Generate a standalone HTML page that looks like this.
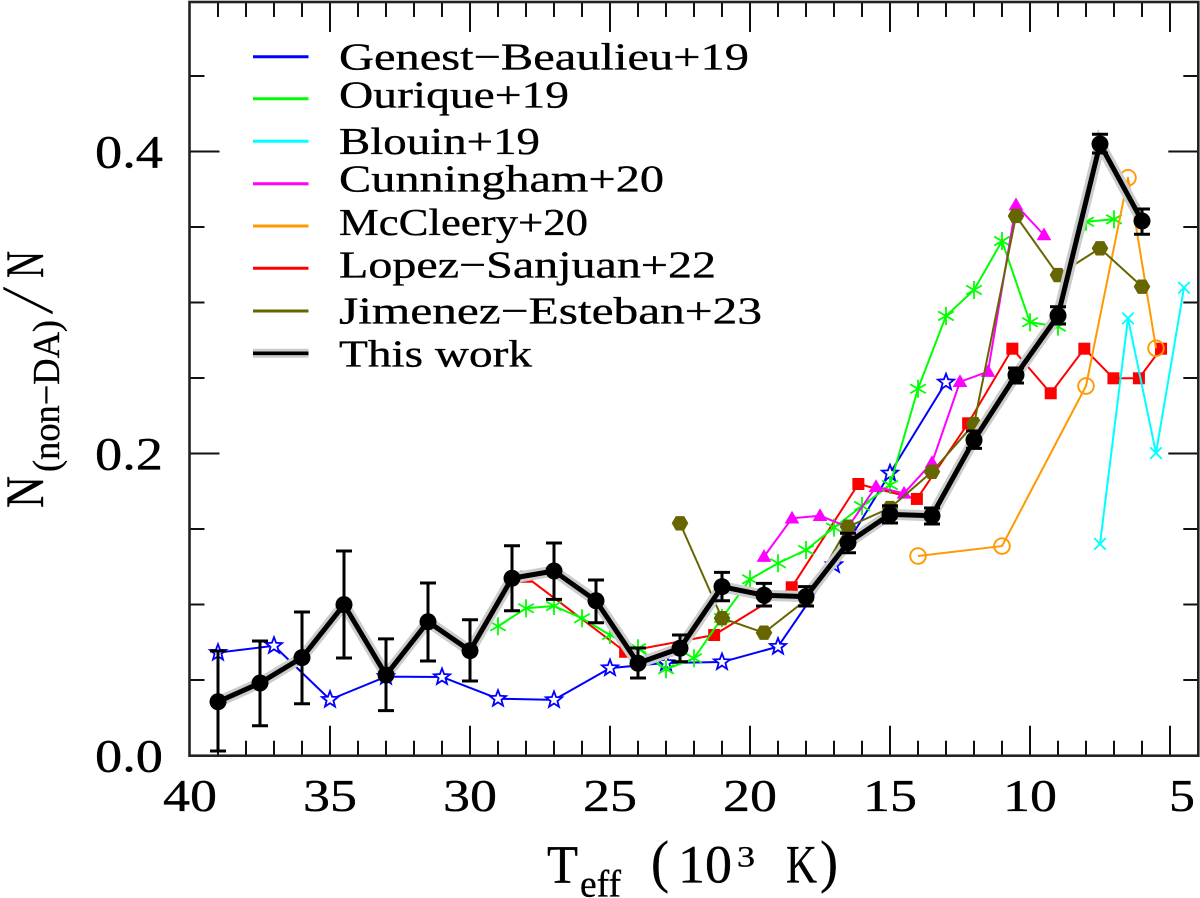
<!DOCTYPE html>
<html lang="en">
<head>
<meta charset="utf-8">
<title>Non-DA fraction versus effective temperature</title>
<style>
html,body{margin:0;padding:0;background:#fff;width:1200px;height:898px;overflow:hidden}
svg{display:block;position:absolute;left:0;top:0}
text{font-family:"Liberation Serif","DejaVu Serif",serif;fill:#000;stroke:#000;stroke-width:0.35}
</style>
</head>
<body>
<svg id="chart" xmlns="http://www.w3.org/2000/svg" width="1200" height="898" viewBox="0 0 1200 898">
  <rect x="0" y="0" width="1200" height="898" fill="#fff"/>
  <g id="ticks"></g>
  <g id="marks"></g>
  <rect x="189.5" y="2" width="1008.8" height="753.7" fill="none" stroke="#222" stroke-width="2.6"/>
  <g id="ticklabels"></g>

  <g>
    <text transform="translate(43,508) rotate(-90)" font-size="54" textLength="32" lengthAdjust="spacingAndGlyphs">N</text>
    <text transform="translate(59,472) rotate(-90)" font-size="38" textLength="152" lengthAdjust="spacingAndGlyphs">(non−DA)</text>
    <text style="stroke:#fff;stroke-width:1.6" transform="translate(53,316) rotate(-90)" font-size="76" textLength="31" lengthAdjust="spacingAndGlyphs">/</text>
    <text transform="translate(43,278) rotate(-90)" font-size="54" textLength="27" lengthAdjust="spacingAndGlyphs">N</text>
  </g>

  <g>
    <text x="547" y="882.5" font-size="54" textLength="31" lengthAdjust="spacingAndGlyphs">T</text>
    <text x="580" y="896.5" font-size="38" textLength="41" lengthAdjust="spacingAndGlyphs">eff</text>
    <text x="651" y="881" font-size="58" textLength="18" lengthAdjust="spacingAndGlyphs">(</text>
    <text x="678" y="882.5" font-size="54" textLength="54" lengthAdjust="spacingAndGlyphs">10</text>
    <text x="737" y="866.5" font-size="30" textLength="18" lengthAdjust="spacingAndGlyphs">3</text>
    <text x="786" y="882.5" font-size="54" textLength="31" lengthAdjust="spacingAndGlyphs">K</text>
    <text x="820" y="881" font-size="58" textLength="18" lengthAdjust="spacingAndGlyphs">)</text>
  </g>

  <g font-size="38">
    <g>
      <line x1="253" x2="308.5" y1="56.7" y2="56.7" stroke="#0000ff" stroke-width="3"/>
      <text x="339" y="69.5" textLength="410" lengthAdjust="spacingAndGlyphs">Genest−Beaulieu+19</text>
    </g>
    <g>
      <line x1="253" x2="308.5" y1="98.7" y2="98.7" stroke="#00ff00" stroke-width="3"/>
      <text x="339" y="107.3" textLength="230" lengthAdjust="spacingAndGlyphs">Ourique+19</text>
    </g>
    <g>
      <line x1="253" x2="308.5" y1="141.3" y2="141.3" stroke="#00ffff" stroke-width="3"/>
      <text x="339" y="154" textLength="201" lengthAdjust="spacingAndGlyphs">Blouin+19</text>
    </g>
    <g>
      <line x1="253" x2="308.5" y1="183.7" y2="183.7" stroke="#ff00ff" stroke-width="3"/>
      <text x="339" y="191.7" textLength="325" lengthAdjust="spacingAndGlyphs">Cunningham+20</text>
    </g>
    <g>
      <line x1="253" x2="308.5" y1="226" y2="226" stroke="#ff9900" stroke-width="3"/>
      <text x="339" y="235" textLength="249" lengthAdjust="spacingAndGlyphs">McCleery+20</text>
    </g>
    <g>
      <line x1="253" x2="308.5" y1="268.3" y2="268.3" stroke="#ff0000" stroke-width="3"/>
      <text x="339" y="277.3" textLength="377" lengthAdjust="spacingAndGlyphs">Lopez−Sanjuan+22</text>
    </g>
    <g>
      <line x1="253" x2="308.5" y1="311" y2="311" stroke="#666600" stroke-width="3"/>
      <text x="339" y="323.3" textLength="423" lengthAdjust="spacingAndGlyphs">Jimenez−Esteban+23</text>
    </g>
    <g>
      <line x1="253" x2="308.5" y1="353.3" y2="353.3" stroke="#cccccc" stroke-width="9"/>
      <line x1="253" x2="308.5" y1="353.3" y2="353.3" stroke="#000" stroke-width="3.6"/>
      <text x="339" y="366.7" textLength="193" lengthAdjust="spacingAndGlyphs">This work</text>
    </g>
  </g>
</svg>

<script>
// Axis tick labels
const xTickLabels = [40, 35, 30, 25, 20, 15, 10, 5];
const yTickLabels = ['0.0', '0.2', '0.4'];

// Genest-Beaulieu+19
const genestTeff = [39, 37, 35, 33, 31, 29, 27, 25, 23, 21, 19, 17, 15, 13];
const genestFrac = [0.0681, 0.0727, 0.0370, 0.0522, 0.0520, 0.0376, 0.0368, 0.0579, 0.0613, 0.0619, 0.0721, 0.1262, 0.1869, 0.2472];

// Ourique+19
const ouriqueTeff = [29, 28, 27, 26, 25, 24, 23, 22, 21, 20, 19, 18, 17, 16, 15, 14, 13, 12, 11, 10, 9, 8, 7];
const ouriqueFrac = [0.0856, 0.0975, 0.0990, 0.0909, 0.0798, 0.0710, 0.0571, 0.0644, 0.0911, 0.1167, 0.1273, 0.1361, 0.1509, 0.1652, 0.1791, 0.2429, 0.2911, 0.3083, 0.3407, 0.2869, 0.2840, 0.3535, 0.3551];

// Blouin+19
const blouinTeff = [7.5, 6.5, 5.5, 4.5];
const blouinFrac = [0.1401, 0.2895, 0.2003, 0.3098];

// Cunningham+20
const cunninghamTeff = [19.5, 18.5, 17.5, 16.5, 15.5, 14.5, 13.5, 12.5, 11.5, 10.5, 9.5];
const cunninghamFrac = [0.1317, 0.1571, 0.1588, 0.1513, 0.1780, 0.1736, 0.1939, 0.2475, 0.2542, 0.3646, 0.3447];

// McCleery+20
const mccleeryTeff = [14, 11, 8, 6.5, 5.5];
const mccleeryFrac = [0.1321, 0.1387, 0.2447, 0.3826, 0.2697];

// Lopez-Sanjuan+22
const lopezTeff = [28, 24.46, 21.28, 18.51, 16.13, 14.04, 12.21, 10.63, 9.26, 8.06, 7.02, 6.11, 5.32];
const lopezFrac = [0.1184, 0.0687, 0.0798, 0.1114, 0.1798, 0.1699, 0.2200, 0.2694, 0.2399, 0.2694, 0.2498, 0.2498, 0.2694];

// Jimenez-Esteban+23
const jimenezTeff = [22.5, 21, 19.5, 18, 16.5, 15, 13.5, 12, 10.5, 9, 7.5, 6];
const jimenezFrac = [0.1538, 0.0909, 0.0813, 0.1030, 0.1515, 0.1639, 0.1879, 0.2195, 0.3573, 0.3182, 0.3359, 0.3105];

// This work
const workTeff = [39, 37.5, 36, 34.5, 33, 31.5, 30, 28.5, 27, 25.5, 24, 22.5, 21, 19.5, 18, 16.5, 15, 13.5, 12, 10.5, 9, 7.5, 6];
const workFrac = [0.0356, 0.0480, 0.0648, 0.0999, 0.0533, 0.0886, 0.0694, 0.1174, 0.1222, 0.1025, 0.0611, 0.0710, 0.1118, 0.1061, 0.1052, 0.1409, 0.1597, 0.1588, 0.2089, 0.2520, 0.2913, 0.4050, 0.3540];
const workUpper = [0.0692, 0.0758, 0.0950, 0.1354, 0.0772, 0.1142, 0.0899, 0.1389, 0.1407, 0.1162, 0.0712, 0.0798, 0.1213, 0.1140, 0.1118, 0.1472, 0.1654, 0.1639, 0.2149, 0.2566, 0.2972, 0.4114, 0.3619];
const workLower = [0.0030, 0.0197, 0.0343, 0.0646, 0.0297, 0.0626, 0.0493, 0.0959, 0.1034, 0.0879, 0.0513, 0.0621, 0.1025, 0.0990, 0.0990, 0.1343, 0.1540, 0.1533, 0.2034, 0.2467, 0.2858, 0.3990, 0.3452];

const NS = 'http://www.w3.org/2000/svg';
function xScale(t) { return 190 + (40 - t) * 28; }
function yScale(v) { return 755.5 - 1510 * v; }

function make(parent, tag, attrs) {
  const el = document.createElementNS(NS, tag);
  for (const k in attrs) el.setAttribute(k, attrs[k]);
  parent.appendChild(el);
  return el;
}

/* ---------- ticks ---------- */
const tickGroup = document.getElementById('ticks');
function tick(x1, y1, x2, y2, name) {
  const el = make(tickGroup, 'line', { x1: x1, y1: y1, x2: x2, y2: y2, stroke: '#111', 'stroke-width': 2 });
  
  
}
for (let t = 5; t < 40; t++) {
  const x = xScale(t);
  const len = t % 5 === 0 ? 30 : 15;
  tick(x, 755.7, x, 755.7 - len, 'x-tick-bottom-' + t);
  tick(x, 2, x, 2 + len, 'x-tick-top-' + t);
}
for (let i = 1; i < 10; i++) {
  const v = i * 0.05;
  const y = yScale(v);
  const len = i % 4 === 0 ? 30 : 15;
  tick(189.5, y, 189.5 + len, y, 'y-tick-left-' + i);
  tick(1198.3, y, 1198.3 - len, y, 'y-tick-right-' + i);
}

/* ---------- tick labels ---------- */
const labelGroup = document.getElementById('ticklabels');
xTickLabels.forEach(function (label) {
  const x = xScale(label);
  const single = label < 10;
  const el = make(labelGroup, 'text', {
    x: single ? x - 1 : x - 27,
    y: 811,
    'font-size': 46,
    textLength: single ? 26 : 54,
    lengthAdjust: 'spacingAndGlyphs'
  });
  el.textContent = String(label);
  
  
});
yTickLabels.forEach(function (label) {
  const el = make(labelGroup, 'text', {
    x: 95,
    y: yScale(parseFloat(label)) + 16,
    'font-size': 47,
    textLength: 68,
    lengthAdjust: 'spacingAndGlyphs'
  });
  el.textContent = label;
  
  
});

/* ---------- markers ---------- */
function polyPoints(cx, cy, r, n, startDeg, inner) {
  const pts = [];
  const count = inner ? n * 2 : n;
  for (let i = 0; i < count; i++) {
    const a = (startDeg + i * 360 / count) * Math.PI / 180;
    const rad = inner && i % 2 === 1 ? inner : r;
    pts.push((cx + rad * Math.cos(a)).toFixed(2) + ',' + (cy + rad * Math.sin(a)).toFixed(2));
  }
  return pts.join(' ');
}
function drawMarker(g, kind, cx, cy, color) {
  if (kind === 'star') {
    return make(g, 'polygon', { points: polyPoints(cx, cy, 8.5, 5, -90, 3.6), fill: '#fff', stroke: color, 'stroke-width': 1.8 });
  }
  if (kind === 'asterisk') {
    const d = [90, 30, 150].map(function (deg) {
      const a = deg * Math.PI / 180, dx = 9 * Math.cos(a), dy = 9 * Math.sin(a);
      return 'M' + (cx - dx).toFixed(2) + ' ' + (cy - dy).toFixed(2) + 'L' + (cx + dx).toFixed(2) + ' ' + (cy + dy).toFixed(2);
    }).join('');
    return make(g, 'path', { d: d, fill: 'none', stroke: color, 'stroke-width': 1.8 });
  }
  if (kind === 'cross') {
    const s = 5.8;
    const d = 'M' + (cx - s) + ' ' + (cy - s) + 'L' + (cx + s) + ' ' + (cy + s) + 'M' + (cx - s) + ' ' + (cy + s) + 'L' + (cx + s) + ' ' + (cy - s);
    return make(g, 'path', { d: d, fill: 'none', stroke: color, 'stroke-width': 1.8 });
  }
  if (kind === 'triangle') {
    return make(g, 'polygon', { points: polyPoints(cx, cy + 1, 8.5, 3, -90), fill: color });
  }
  if (kind === 'circle') {
    return make(g, 'circle', { cx: cx, cy: cy, r: 7.8, fill: 'none', stroke: color, 'stroke-width': 1.9 });
  }
  if (kind === 'square') {
    return make(g, 'rect', { x: cx - 6, y: cy - 6, width: 12, height: 12, fill: color });
  }
  if (kind === 'hexagon') {
    return make(g, 'polygon', { points: polyPoints(cx, cy, 8.3, 6, 0), fill: color });
  }
  return make(g, 'circle', { cx: cx, cy: cy, r: 8.5, fill: color });
}

const marks = document.getElementById('marks');
function linePoints(teff, frac) {
  return teff.map(function (t, i) { return xScale(t).toFixed(2) + ',' + yScale(frac[i]).toFixed(2); }).join(' ');
}
function drawSeries(name, teff, frac, color, kind) {
  const g = make(marks, 'g', {});
  
  
  const line = make(g, 'polyline', { points: linePoints(teff, frac), fill: 'none', stroke: color, 'stroke-width': 2, 'stroke-linejoin': 'round' });
  
  
  teff.forEach(function (t, i) {
    const m = drawMarker(g, kind, xScale(t), yScale(frac[i]), color);
    
    
  });
}

drawSeries('genest-beaulieu', genestTeff, genestFrac, '#0000ff', 'star');
drawSeries('lopez-sanjuan', lopezTeff, lopezFrac, '#ff0000', 'square');
drawSeries('ourique', ouriqueTeff, ouriqueFrac, '#00ff00', 'asterisk');
drawSeries('cunningham', cunninghamTeff, cunninghamFrac, '#ff00ff', 'triangle');
drawSeries('mccleery', mccleeryTeff, mccleeryFrac, '#ff9900', 'circle');
drawSeries('blouin', blouinTeff, blouinFrac, '#00ffff', 'cross');
drawSeries('jimenez-esteban', jimenezTeff, jimenezFrac, '#666600', 'hexagon');

/* ---------- this work ---------- */
const workGroup = make(marks, 'g', {});


const workHalo = make(workGroup, 'polyline', { points: linePoints(workTeff, workFrac), fill: 'none', stroke: '#cccccc', 'stroke-width': 11, 'stroke-linejoin': 'miter' });


const workLine = make(workGroup, 'polyline', { points: linePoints(workTeff, workFrac), fill: 'none', stroke: '#000', 'stroke-width': 5, 'stroke-linejoin': 'round' });


workTeff.forEach(function (t, i) {
  const x = xScale(t);
  const yHi = yScale(workUpper[i]);
  const yLo = yScale(workLower[i]);
  const d = 'M' + x + ' ' + yHi + 'L' + x + ' ' + yLo +
            'M' + (x - 8) + ' ' + yHi + 'L' + (x + 8) + ' ' + yHi +
            'M' + (x - 8) + ' ' + yLo + 'L' + (x + 8) + ' ' + yLo;
  const bar = make(workGroup, 'path', { d: d, fill: 'none', stroke: '#000', 'stroke-width': 3 });
  
  
  const dot = drawMarker(workGroup, 'dot', x, yScale(workFrac[i]), '#000');
  
  
});
</script>
</body>
</html>
